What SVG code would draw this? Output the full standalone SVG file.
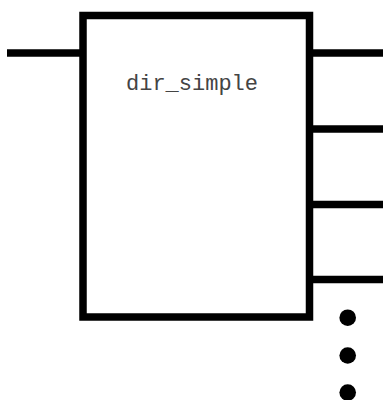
<svg xmlns="http://www.w3.org/2000/svg" width="383" height="400" viewBox="0 0 383 400">
<style>
.box{fill:#fff;stroke:#000;stroke-width:7.5}
.wire{stroke:#000;stroke-width:7.5;fill:none}
.dot{fill:#000}
.lbl{font-family:"Liberation Mono","Courier New",monospace;font-size:22px;fill:#444;text-anchor:middle}
</style>
<g id="connectors">
<line class="wire" x1="7" y1="53" x2="83" y2="53"/>
<line class="wire" x1="309.5" y1="53" x2="383" y2="53"/>
<line class="wire" x1="309.5" y1="129" x2="383" y2="129"/>
<line class="wire" x1="309.5" y1="204.5" x2="383" y2="204.5"/>
<line class="wire" x1="309.5" y1="279.5" x2="383" y2="279.5"/>
</g>
<g id="dir_simple">
<rect class="box" x="83" y="15.5" width="226.5" height="301.5"/>
<text class="lbl" x="192" y="90">dir_simple</text>
</g>
<g id="ellipsis">
<circle class="dot" cx="347.7" cy="317.7" r="8.3"/>
<circle class="dot" cx="347.7" cy="355.5" r="8.3"/>
<circle class="dot" cx="347.7" cy="392.5" r="8.3"/>
</g>
</svg>
